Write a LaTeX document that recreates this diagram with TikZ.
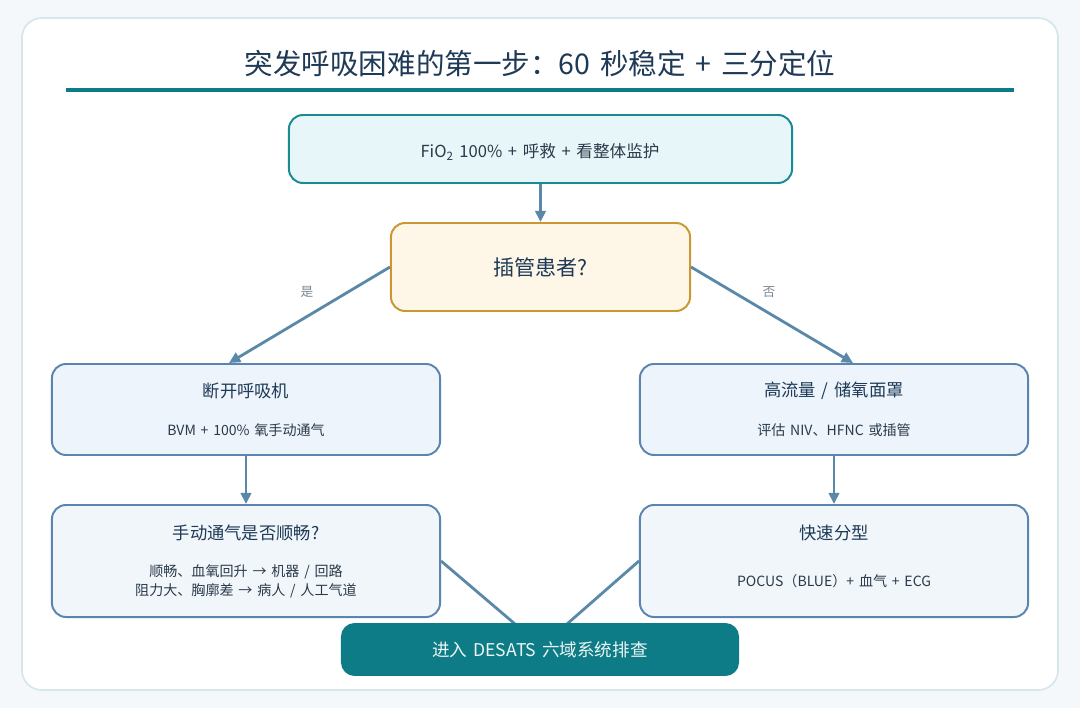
\documentclass[tikz,border=0pt]{standalone}
\usepackage{fontspec}
\setmainfont{Noto Sans CJK SC}
\usetikzlibrary{arrows.meta}
\definecolor{pagebg}{HTML}{F4F8FA}
\definecolor{cardline}{HTML}{D5E6EC}
\definecolor{ink}{HTML}{1E3A56}
\definecolor{txt}{HTML}{2B3A4A}
\definecolor{teal}{HTML}{0E7C86}
\definecolor{startfill}{HTML}{E7F6F8}
\definecolor{startline}{HTML}{1A8A93}
\definecolor{askfill}{HTML}{FEF6E6}
\definecolor{askline}{HTML}{CC9632}
\definecolor{stepfill}{HTML}{EDF4FC}
\definecolor{stepfillb}{HTML}{F1F6FB}
\definecolor{stepline}{HTML}{5B85AE}
\definecolor{flow}{HTML}{5A88A8}
\definecolor{note}{HTML}{7A8590}
\newcommand{\widesp}{\spaceskip=0.34em\relax}
\tikzset{
    box/.style={rectangle, rounded corners=10pt, line width=1.4pt},
    start/.style={box, fill=startfill, draw=startline, minimum width=12.575cm, minimum height=1.7cm},
    ask/.style={box, fill=askfill, draw=askline, minimum width=7.475cm, minimum height=2.2cm},
    act/.style={box, fill=stepfill, draw=stepline, minimum width=9.7cm, minimum height=2.275cm},
    check/.style={box, fill=stepfillb, draw=stepline, minimum width=9.7cm, minimum height=2.8cm},
    goal/.style={box, rounded corners=9pt, fill=teal, draw=teal, minimum width=9.9cm, minimum height=1.275cm,
        text=white!92!teal, font=\fontsize{12.5}{15}\selectfont\widesp},
    head/.style={text=ink, font=\fontsize{12.3}{15}\selectfont\widesp},
    sub/.style={text=txt, font=\fontsize{10}{13.5}\selectfont\widesp, align=center},
    yesno/.style={text=note, font=\fontsize{9}{11}\selectfont},
    go/.style={-{Triangle[length=8pt,width=7.5pt]}, flow, line width=2pt},
    merge/.style={flow, line width=2pt}
}
\begin{document}
\begin{tikzpicture}[x=0.025cm, y=-0.025cm]
\fill[pagebg] (0,0) rectangle (1080,708);
\useasboundingbox (0,0) rectangle (1080,708);
\draw[cardline, fill=white, line width=1.2pt, rounded corners=14pt] (22,18) rectangle (1058,690);

\node[text=ink, font=\fontsize{20.3}{24}\selectfont\widesp] (title) at (540,64) {突发呼吸困难的第一步：60 秒稳定 + 三分定位};
\draw[teal, line width=2.2pt] (66,90) -- (1014,90);

\node[start] (fio) at (540.5,149) {};
\node[text=txt, font=\fontsize{11.8}{14}\selectfont\widesp] (fiotext) at (540,152) {FiO\textsubscript{2} 100\% + 呼救 + 看整体监护};

\node[ask, text=ink, font=\fontsize{15}{18}\selectfont] (ask) at (540.5,267) {插管患者?};

\node[act] (vent) at (246,409.5) {};
\node[head] (venthead) at (246,391) {断开呼吸机};
\node[sub] (ventsub) at (246,430) {BVM + 100\% 氧手动通气};

\node[act] (mask) at (834,409.5) {};
\node[head] (maskhead) at (834,391) {高流量 / 储氧面罩};
\node[sub] (masksub) at (834,430) {评估 NIV、HFNC 或插管};

\node[check] (bag) at (246,561) {};
\node[head] (baghead) at (246,533) {手动通气是否顺畅?};
\node[sub] (bagsub) at (246,581.5) {顺畅、血氧回升 → 机器 / 回路\\阻力大、胸廓差 → 病人 / 人工气道};

\node[check] (triage) at (834,561) {};
\node[head] (triagehead) at (834,533) {快速分型};
\node[sub] (triagesub) at (834,581) {POCUS（BLUE）+ 血气 + ECG};

\coordinate (inl) at (515,624);
\coordinate (inr) at (567,624);
\draw[merge] (bag.east) -- (inl);
\draw[merge] (triage.west) -- (inr);
\node[goal] (desats) at (540,649.5) {进入 DESATS 六域系统排查};

\draw[go] (fio.south) -- (ask.north);
\draw[go] (ask.west) -- ([xshift=-0.425cm]vent.north);
\draw[go] (ask.east) -- ([xshift=0.475cm]mask.north);
\draw[go] (vent.south) -- (bag.north);
\draw[go] (mask.south) -- (triage.north);
\node[yesno] (yes) at (307,292) {是};
\node[yesno] (no) at (769,292) {否};
\end{tikzpicture}
\end{document}
